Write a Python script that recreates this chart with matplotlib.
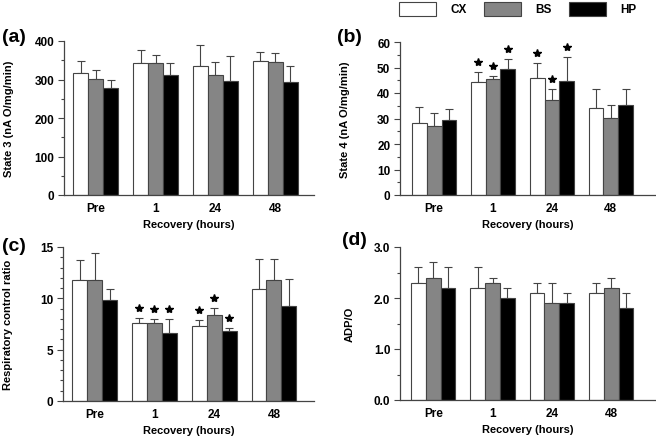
import matplotlib
matplotlib.use("Agg")
import matplotlib.pyplot as plt
import numpy as np
from matplotlib.ticker import MultipleLocator, FormatStrFormatter
from matplotlib.transforms import offset_copy

plt.rcParams['font.family'] = ['Liberation Sans', 'DejaVu Sans']
plt.rcParams['font.weight'] = 'bold'

# ---- data ----
groups = ["Pre", "1", "24", "48"]
series = ["CX", "BS", "HP"]
colors = ["white", "#858585", "black"]

state3 = [[317, 342, 335, 348], [302, 342, 312, 346], [277, 312, 297, 293]]
state3_err = [[30, 34, 55, 24], [23, 21, 33, 22], [21, 32, 64, 42]]

state4 = [[28.4, 44.4, 45.8, 34.2], [26.9, 45.4, 37.4, 30.3], [29.4, 49.3, 44.8, 35.4]]
state4_err = [[6.1, 4.0, 6.1, 7.5], [5.1, 1.4, 4.0, 4.9], [4.3, 4.2, 9.3, 6.0]]

rcr = [[11.8, 7.6, 7.3, 10.9], [11.8, 7.6, 8.4, 11.8], [9.8, 6.6, 6.8, 9.25]]
rcr_err = [[1.9, 0.5, 0.6, 2.9], [2.6, 0.35, 0.7, 2.0], [1.1, 1.4, 0.3, 2.65]]

adpo = [[2.3, 2.2, 2.1, 2.1], [2.4, 2.3, 1.9, 2.2], [2.2, 2.0, 1.9, 1.8]]
adpo_err = [[0.3, 0.4, 0.2, 0.2], [0.3, 0.1, 0.4, 0.2], [0.4, 0.2, 0.2, 0.3]]

# groups marked with a significance star (all series)
star_groups = [1, 2]

W, H = 656, 439
fig = plt.figure(figsize=(W / 100, H / 100), dpi=100)

def add_ax(left, top, width, height):
    return fig.add_axes([left / W, 1 - (top + height) / H, width / W, height / H])

axcol = "#444444"

def panel(ax, vals, errs, ylim, major, minor, fmt, ylabel, stars, xlim):
    x = np.arange(len(groups))
    bw = 0.25
    star_tr = offset_copy(ax.transData, fig=fig, x=0, y=10, units='dots')
    for i in range(3):
        xs = x + (i - 1) * bw
        ax.bar(xs, vals[i], bw, color=colors[i], edgecolor=axcol, linewidth=0.8, zorder=2)
        ax.errorbar(xs, vals[i], yerr=[np.zeros(4), errs[i]], fmt='none',
                    ecolor=axcol, elinewidth=0.8, capsize=3.2, capthick=0.8, zorder=1)
        if stars:
            sx = [xs[g] for g in star_groups]
            sy = [vals[i][g] + errs[i][g] for g in star_groups]
            ax.plot(sx, sy, marker='*', color='black', markersize=6, linestyle='none',
                    clip_on=False, zorder=3, transform=star_tr)
    ax.set_xlim(*xlim)
    ax.set_ylim(*ylim)
    ax.set_xticks(x)
    ax.set_xticklabels(groups)
    ax.yaxis.set_major_locator(MultipleLocator(major))
    ax.yaxis.set_minor_locator(MultipleLocator(minor))
    ax.yaxis.set_major_formatter(FormatStrFormatter(fmt))
    ax.tick_params(axis='x', length=0, labelsize=8.5, pad=5)
    ax.tick_params(axis='y', which='major', length=4, width=0.8, color=axcol, labelsize=8.5, pad=3)
    ax.tick_params(axis='y', which='minor', length=2.5, width=0.8, color=axcol)
    for s in ['top', 'right']:
        ax.spines[s].set_visible(False)
    for s in ['left', 'bottom']:
        ax.spines[s].set_color(axcol)
        ax.spines[s].set_linewidth(0.9)
    ax.set_xlabel("Recovery (hours)", fontsize=8, fontweight='bold', labelpad=4)
    ax.set_ylabel(ylabel, fontsize=8, fontweight='bold')

ax_a = add_ax(64, 42, 250, 154)
ax_b = add_ax(400, 43, 255, 153)
ax_c = add_ax(63, 248, 251, 154)
ax_d = add_ax(400, 248, 255, 153)

panel(ax_a, state3, state3_err, (0, 400), 100, 50, '%d', "State 3 (nA O/mg/min)", False, (-0.53, 3.65))
panel(ax_b, state4, state4_err, (0, 60), 10, 5, '%d', "State 4 (nA O/mg/min)", True, (-0.58, 3.75))
panel(ax_c, rcr, rcr_err, (0, 15), 5, 1, '%d', "Respiratory control ratio", True, (-0.53, 3.67))
panel(ax_d, adpo, adpo_err, (0, 3), 1, 0.5, '%.1f', "ADP/O", False, (-0.56, 3.74))

ax_a.yaxis.set_label_coords(-50 / 250, 0.5)
ax_c.yaxis.set_label_coords(-50 / 251, 0.5)
ax_b.yaxis.set_label_coords(-50 / 255, 0.5)
ax_d.yaxis.set_label_coords(-45 / 255, 0.5)

# panel tags
fig.text(2 / W, 1 - 38 / H, "(a)", fontsize=14, fontweight='bold', va='center', ha='left')
fig.text(337 / W, 1 - 37 / H, "(b)", fontsize=14, fontweight='bold', va='center', ha='left')
fig.text(2 / W, 1 - 247 / H, "(c)", fontsize=14, fontweight='bold', va='center', ha='left')
fig.text(342 / W, 1 - 241 / H, "(d)", fontsize=14, fontweight='bold', va='center', ha='left')

# legend at the top
leg_x = [399, 484, 569]
for lx, name, c in zip(leg_x, series, colors):
    fig.patches.append(plt.Rectangle((lx / W, 1 - 17 / H), 37 / W, 14 / H, transform=fig.transFigure,
                                     facecolor=c, edgecolor=axcol, linewidth=0.8))
    fig.text((lx + 51) / W, 1 - 10 / H, name, fontsize=8.5, fontweight='bold', va='center', ha='left')

fig.savefig("out.png", dpi=100)
